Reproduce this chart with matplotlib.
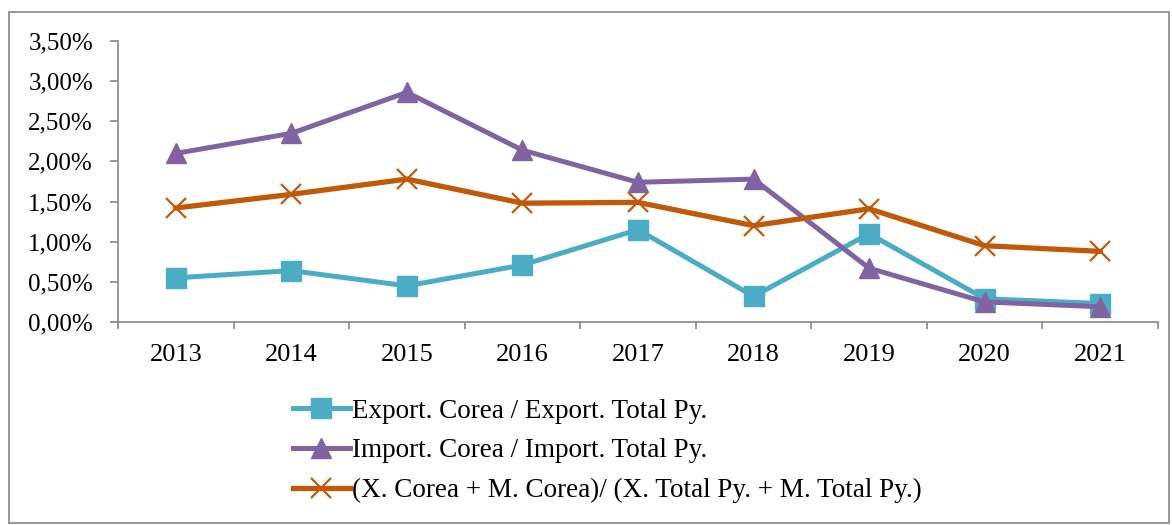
import matplotlib.pyplot as plt
from matplotlib.patches import Rectangle
from matplotlib.ticker import FuncFormatter

# ================================================
# DATA
# ================================================
jaren = ["2013", "2014", "2015", "2016", "2017", "2018", "2019", "2020", "2021"]
export_pct = [0.55, 0.64, 0.45, 0.71, 1.15, 0.32, 1.10, 0.29, 0.23]
import_pct = [2.10, 2.35, 2.86, 2.14, 1.74, 1.78, 0.67, 0.25, 0.19]
totaal_pct = [1.42, 1.59, 1.78, 1.48, 1.49, 1.20, 1.41, 0.95, 0.88]

labels = [
    "Export. Corea / Export. Total Py.",
    "Import. Corea / Import. Total Py.",
    "(X. Corea + M. Corea)/ (X. Total Py. + M. Total Py.)",
]

CYAAN = "#4BACC6"
PAARS = "#8064A2"
ORANJE = "#C05A0A"
GRIJS = "#868686"

plt.rcParams["font.family"] = ["Liberation Serif", "DejaVu Serif"]
plt.rcParams["font.size"] = 18

fig = plt.figure(figsize=(11.72, 5.25), dpi=100)
ax = fig.add_axes([118 / 1172, 1 - 322 / 525, 1040 / 1172, 281 / 525])

x = list(range(len(jaren)))
ax.plot(x, export_pct, color=CYAAN, lw=3.6, marker="s", ms=14, label=labels[0])
ax.plot(x, import_pct, color=PAARS, lw=3.6, marker="^", ms=14, label=labels[1])
ax.plot(x, totaal_pct, color=ORANJE, lw=3.8, marker="x", ms=14, mew=1.6, label=labels[2])

ax.set_xlim(-0.5, len(jaren) - 0.5)
ax.set_ylim(0, 3.5)
ax.set_yticks([i * 0.5 for i in range(8)])
ax.yaxis.set_major_formatter(FuncFormatter(lambda v, p: f"{v:.2f}%".replace(".", ",")))

# categorie-as: streepjes tussen de jaren, labels in het midden
ax.set_xticks([i - 0.5 for i in range(len(jaren) + 1)])
ax.set_xticklabels([])
ax.set_xticks(x, minor=True)
ax.set_xticklabels(jaren, minor=True, fontsize=19)
ax.tick_params(axis="x", which="minor", length=0, pad=16)
ax.tick_params(axis="x", which="major", length=5, color=GRIJS, width=1.2)
ax.tick_params(axis="y", length=6, color=GRIJS, width=1.2, pad=12)

for kant in ["top", "right"]:
    ax.spines[kant].set_visible(False)
for kant in ["left", "bottom"]:
    ax.spines[kant].set_color(GRIJS)
    ax.spines[kant].set_linewidth(1.2)

fig.legend(loc="center left", bbox_to_anchor=(293 / 1172, 1 - 451 / 525),
           frameon=False, fontsize=19.5, handlelength=2.1, handletextpad=0.07,
           labelspacing=0.55, borderpad=0, borderaxespad=0)

# rand om de hele figuur
fig.patches.append(Rectangle((9 / 1172, 2 / 525), 1160 / 1172, 511 / 525,
                             transform=fig.transFigure, fill=False,
                             edgecolor=GRIJS, lw=1.2))

fig.savefig("out.png", dpi=100)
